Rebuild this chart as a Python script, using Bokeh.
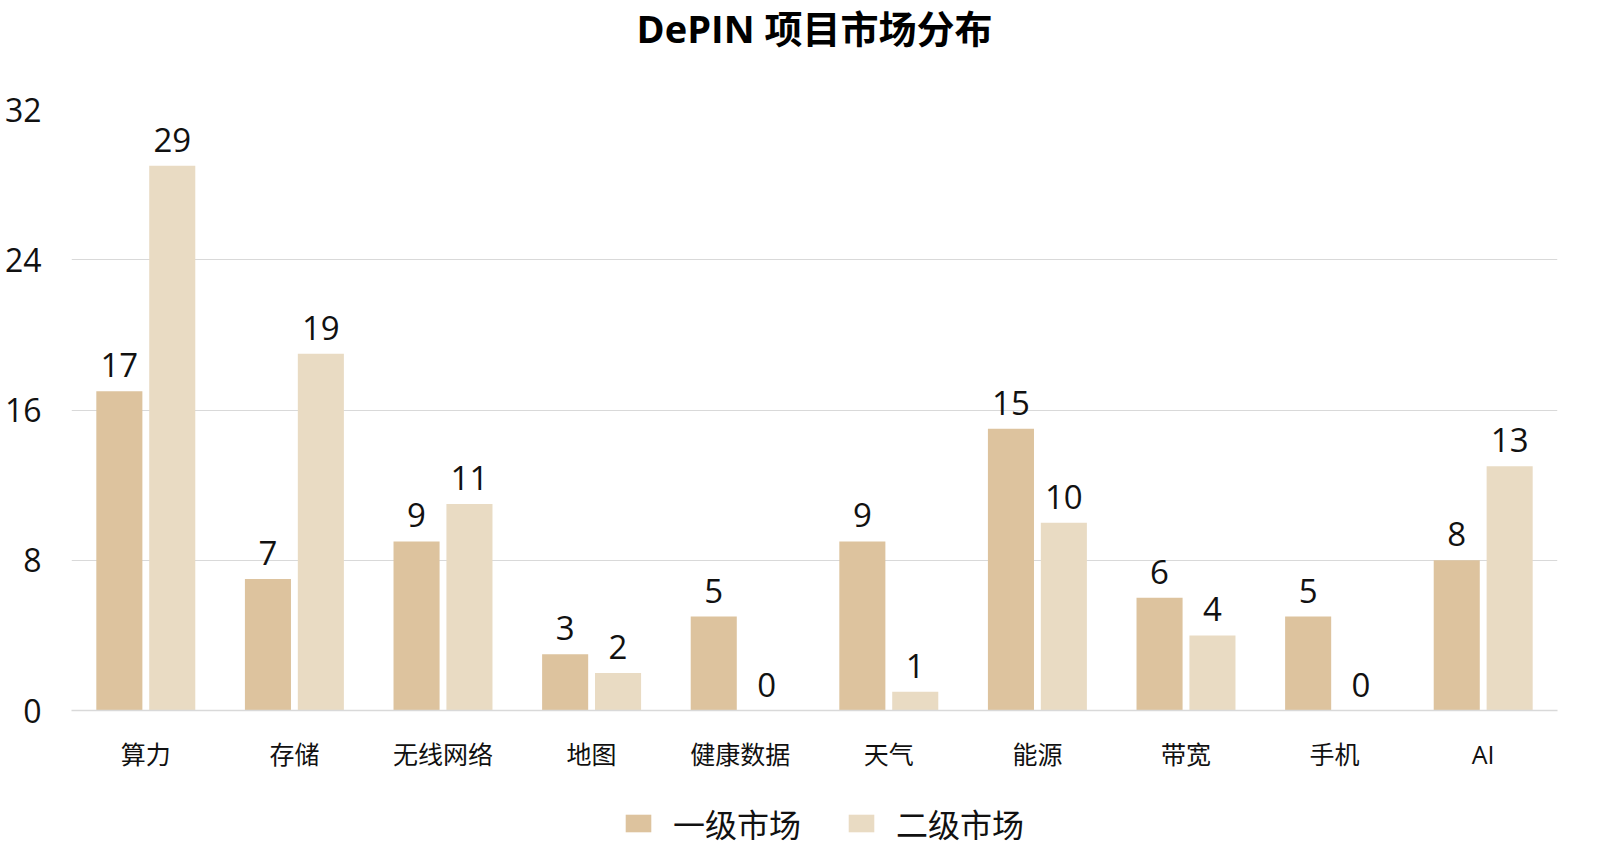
from bokeh.plotting import figure
from bokeh.layouts import column
from bokeh.models import FactorRange, Range1d, FixedTicker, Legend, LegendItem, ColumnDataSource, Title
from bokeh.transform import dodge
from bokeh.core.properties import value
from bokeh.embed import file_html
from bokeh.resources import INLINE

categories = ["算力", "存储", "无线网络", "地图", "健康数据", "天气", "能源", "带宽", "手机", "AI"]
primary_market = [17, 7, 9, 3, 5, 9, 15, 6, 5, 8]
secondary_market = [29, 19, 11, 2, 0, 1, 10, 4, 0, 13]
y_ticks = [0, 8, 16, 24, 32]
series_names = ["一级市场", "二级市场"]
title_text = "DePIN 项目市场分布"

FONT = "'Open Sans', 'Noto Sans CJK SC', sans-serif"
C1 = "#DDC39E"
C2 = "#E9DBC3"

source = ColumnDataSource(dict(cat=categories, p1=primary_market, p2=secondary_market,
                               l1=[str(v) for v in primary_market],
                               l2=[str(v) for v in secondary_market]))

p = figure(frame_width=1486, frame_height=601, x_range=FactorRange(*categories, range_padding=0),
           y_range=Range1d(0, 32), output_backend="svg", toolbar_location=None,
           min_border_left=71, min_border_right=43, min_border_top=109, min_border_bottom=86)
p.outline_line_color = None
p.background_fill_color = "white"
p.border_fill_color = "white"

off = 0.178
w = 0.31
r1 = p.vbar(x=dodge("cat", -off, range=p.x_range), top="p1", width=w, source=source,
            fill_color=C1, line_color=None)
r2 = p.vbar(x=dodge("cat", off, range=p.x_range), top="p2", width=w, source=source,
            fill_color=C2, line_color=None)

p.text(x=dodge("cat", -off, range=p.x_range), y="p1", text="l1", source=source,
       text_font=value(FONT), text_font_size="33px", text_color="#111111",
       text_align="center", text_baseline="bottom", y_offset=-14)
p.text(x=dodge("cat", off, range=p.x_range), y="p2", text="l2", source=source,
       text_font=value(FONT), text_font_size="33px", text_color="#111111",
       text_align="center", text_baseline="bottom", y_offset=-14)

# spacer between frame and title, then the title itself (outermost)
p.add_layout(Title(text=" ", text_font_size="10px", standoff=42), "above")
p.add_layout(Title(text=title_text, align="center", text_font=FONT, text_font_size="38px",
                   text_font_style="bold", text_color="#000000", standoff=0,
                   vertical_align="middle"), "above")

p.yaxis.ticker = FixedTicker(ticks=y_ticks)
p.yaxis.axis_line_color = None
p.yaxis.major_tick_line_color = None
p.yaxis.minor_tick_line_color = None
p.yaxis.major_label_text_font = FONT
p.yaxis.major_label_text_font_size = "32px"
p.yaxis.major_label_text_color = "#111111"
p.yaxis.major_label_standoff = 24

p.xaxis.axis_line_color = "#D9D9D9"
p.xaxis.axis_line_width = 1.5
p.xaxis.major_tick_line_color = None
p.xaxis.minor_tick_line_color = None
p.xaxis.major_label_text_font = FONT
p.xaxis.major_label_text_font_size = "25px"
p.xaxis.major_label_text_color = "#111111"
p.xaxis.major_label_standoff = 20

p.xgrid.grid_line_color = None
p.ygrid.grid_line_color = "#D9D9D9"
p.ygrid.grid_line_width = 1

# legend strip below the chart (swatch renderers sit outside the visible range)
lf = figure(frame_width=1600, frame_height=54, x_range=Range1d(0, 1), y_range=Range1d(0, 1),
            output_backend="svg", toolbar_location=None, x_axis_location=None,
            y_axis_location=None, min_border_left=0, min_border_right=0,
            min_border_top=0, min_border_bottom=0)
lf.outline_line_color = None
lf.xgrid.grid_line_color = None
lf.ygrid.grid_line_color = None
k1 = lf.vbar(x=[-5], top=[-5], width=0.1, fill_color=C1, line_color=None)
k2 = lf.vbar(x=[-5], top=[-5], width=0.1, fill_color=C2, line_color=None)
legend = Legend(items=[LegendItem(label=series_names[0], renderers=[k1]),
                       LegendItem(label=series_names[1], renderers=[k2])],
                orientation="horizontal", location=(622, 4),
                label_text_font=FONT, label_text_font_size="32px", label_text_color="#111111",
                glyph_width=32, glyph_height=22, label_standoff=19, spacing=44,
                border_line_color=None, background_fill_alpha=0, margin=0, padding=0)
lf.add_layout(legend)

layout = column(p, lf, spacing=0)
open("out.html", "w").write(file_html(layout, INLINE))
